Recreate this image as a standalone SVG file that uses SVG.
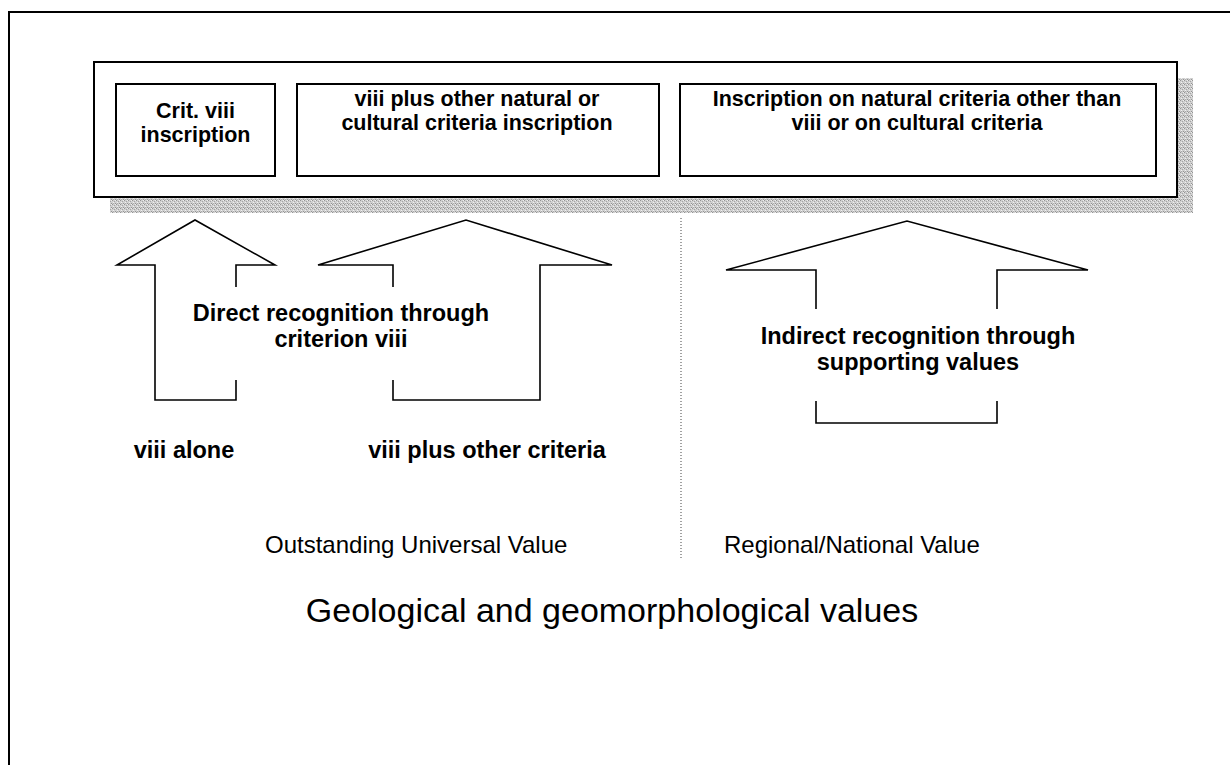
<svg xmlns="http://www.w3.org/2000/svg" width="1230" height="765" viewBox="0 0 1230 765">
<style>
.frame{fill:none;stroke:#000;stroke-width:2}
.box{fill:#fff;stroke:#000;stroke-width:2}
.ar{fill:none;stroke:#000;stroke-width:1.6;stroke-linejoin:miter}
.bt{font-family:"Liberation Sans",Arial,sans-serif;font-weight:bold;font-size:21.5px;fill:#000;text-anchor:middle}
.lt{font-family:"Liberation Sans",Arial,sans-serif;font-weight:bold;font-size:23.5px;fill:#000;text-anchor:middle}
.rt{font-family:"Liberation Sans",Arial,sans-serif;font-size:24px;fill:#000}
.big{font-family:"Liberation Sans",Arial,sans-serif;font-size:34px;fill:#000;text-anchor:middle}
</style>
<defs>
<pattern id="dither" width="4" height="4" patternUnits="userSpaceOnUse">
<rect width="4" height="4" fill="#d0d0d0"/>
<rect x="0" y="0" width="1" height="1" fill="#949494"/>
<rect x="2" y="1" width="1" height="1" fill="#a4a4a4"/>
<rect x="1" y="2" width="1" height="1" fill="#f0f0f0"/>
<rect x="3" y="3" width="1" height="1" fill="#949494"/>
<rect x="3" y="0" width="1" height="1" fill="#eeeeee"/>
<rect x="1" y="3" width="1" height="1" fill="#acacac"/>
</pattern>
</defs>
<rect width="1230" height="765" fill="#fff"/>
<rect id="page-frame" class="frame" x="9" y="12" width="1240" height="780"/>

<g id="inscription-panel">
<rect x="110" y="78" width="1083" height="135" fill="url(#dither)"/>
<rect class="box" x="94" y="62" width="1083" height="135"/>
</g>

<g id="box-crit-viii">
<rect class="box" x="116" y="84" width="159" height="92"/>
<text class="bt" x="195.5" y="118">Crit. viii</text>
<text class="bt" x="195.5" y="142">inscription</text>
</g>

<g id="box-viii-plus">
<rect class="box" x="297" y="84" width="362" height="92"/>
<text class="bt" x="477" y="106">viii plus other natural or</text>
<text class="bt" x="477" y="130">cultural criteria inscription</text>
</g>

<g id="box-other-criteria">
<rect class="box" x="680" y="84" width="476" height="92"/>
<text class="bt" x="917" y="106">Inscription on natural criteria other than</text>
<text class="bt" x="917" y="130">viii or on cultural criteria</text>
</g>

<g id="connectors">
<path class="ar" d="M236 287 V265 H275 L195 220 L117 265 H155 V400 H236 V380"/>
<path class="ar" d="M393 287 V265 H318 L466 220 L612 265 H540 V400 H393 V380"/>
<path class="ar" d="M816 309 V270 H726 L907 221 L1088 270 H997 V309"/>
<path class="ar" d="M816 401 V423 H997 V401"/>
<line x1="681" y1="218" x2="681" y2="560" stroke="#444" stroke-width="1" stroke-dasharray="1 2"/>
</g>

<g id="label-direct">
<text class="lt" x="341" y="321">Direct recognition through</text>
<text class="lt" x="341" y="347">criterion viii</text>
</g>

<g id="label-indirect">
<text class="lt" x="918" y="344">Indirect recognition through</text>
<text class="lt" x="918" y="370">supporting values</text>
</g>

<g id="label-viii-alone">
<text class="lt" x="184" y="458">viii alone</text>
</g>
<g id="label-viii-plus">
<text class="lt" x="487" y="458">viii plus other criteria</text>
</g>

<g id="label-ouv">
<text class="rt" x="265" y="553">Outstanding Universal Value</text>
</g>
<g id="label-regional">
<text class="rt" x="724" y="553">Regional/National Value</text>
</g>

<g id="title">
<text class="big" x="612" y="622">Geological and geomorphological values</text>
</g>
</svg>
